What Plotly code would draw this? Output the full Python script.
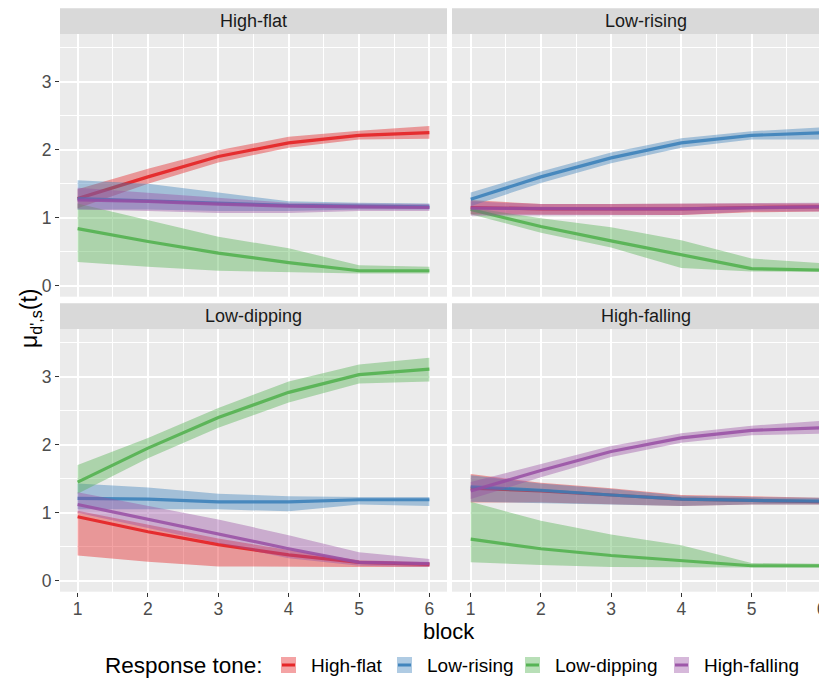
import plotly.graph_objects as go

# The page body has an 8px margin; design in screenshot pixels and shift.
OFF = 8
W, H = 827 - OFF, 682 - OFF

blocks = [1, 2, 3, 4, 5, 6]
tones = ["High-flat", "Low-rising", "Low-dipping", "High-falling"]
panels = ["High-flat", "Low-rising", "Low-dipping", "High-falling"]
tone_rgb = {
    "High-flat": (228, 26, 28),
    "Low-rising": (55, 126, 184),
    "Low-dipping": (77, 175, 74),
    "High-falling": (152, 78, 163),
}

# ---- Panel: High-flat ----
hf_mean = {
    "High-flat":    [1.28, 1.60, 1.90, 2.10, 2.21, 2.25],
    "Low-rising":   [1.28, 1.25, 1.21, 1.18, 1.17, 1.16],
    "Low-dipping":  [0.84, 0.65, 0.48, 0.34, 0.22, 0.22],
    "High-falling": [1.26, 1.24, 1.20, 1.17, 1.16, 1.15],
}
hf_lo = {
    "High-flat":    [1.14, 1.50, 1.81, 2.03, 2.15, 2.16],
    "Low-rising":   [1.12, 1.12, 1.10, 1.10, 1.12, 1.12],
    "Low-dipping":  [0.35, 0.28, 0.22, 0.20, 0.18, 0.18],
    "High-falling": [1.12, 1.10, 1.07, 1.07, 1.10, 1.10],
}
hf_hi = {
    "High-flat":    [1.42, 1.72, 1.99, 2.19, 2.28, 2.35],
    "Low-rising":   [1.55, 1.50, 1.37, 1.24, 1.22, 1.21],
    "Low-dipping":  [1.21, 0.97, 0.72, 0.55, 0.30, 0.28],
    "High-falling": [1.44, 1.37, 1.30, 1.22, 1.21, 1.20],
}

# ---- Panel: Low-rising ----
lr_mean = {
    "High-flat":    [1.15, 1.13, 1.13, 1.13, 1.15, 1.16],
    "Low-rising":   [1.27, 1.60, 1.88, 2.10, 2.21, 2.25],
    "Low-dipping":  [1.12, 0.87, 0.66, 0.45, 0.25, 0.23],
    "High-falling": [1.14, 1.13, 1.13, 1.13, 1.15, 1.16],
}
lr_lo = {
    "High-flat":    [1.05, 1.05, 1.04, 1.04, 1.08, 1.09],
    "Low-rising":   [1.17, 1.51, 1.80, 2.03, 2.15, 2.15],
    "Low-dipping":  [1.05, 0.78, 0.56, 0.26, 0.21, 0.20],
    "High-falling": [1.03, 1.04, 1.04, 1.04, 1.09, 1.09],
}
lr_hi = {
    "High-flat":    [1.26, 1.20, 1.20, 1.20, 1.20, 1.21],
    "Low-rising":   [1.37, 1.68, 1.96, 2.17, 2.27, 2.33],
    "Low-dipping":  [1.15, 0.99, 0.86, 0.67, 0.40, 0.33],
    "High-falling": [1.24, 1.20, 1.20, 1.21, 1.21, 1.22],
}

# ---- Panel: Low-dipping ----
ld_mean = {
    "High-flat":    [0.94, 0.72, 0.53, 0.38, 0.27, 0.24],
    "Low-rising":   [1.21, 1.20, 1.16, 1.16, 1.19, 1.19],
    "Low-dipping":  [1.45, 1.95, 2.40, 2.77, 3.03, 3.11],
    "High-falling": [1.12, 0.90, 0.68, 0.47, 0.27, 0.25],
}
ld_lo = {
    "High-flat":    [0.37, 0.28, 0.21, 0.20, 0.20, 0.20],
    "Low-rising":   [1.05, 1.05, 1.05, 1.02, 1.12, 1.10],
    "Low-dipping":  [1.28, 1.80, 2.25, 2.62, 2.90, 2.93],
    "High-falling": [1.00, 0.78, 0.55, 0.33, 0.22, 0.20],
}
ld_hi = {
    "High-flat":    [1.03, 0.83, 0.62, 0.45, 0.30, 0.27],
    "Low-rising":   [1.43, 1.37, 1.28, 1.24, 1.23, 1.23],
    "Low-dipping":  [1.70, 2.10, 2.54, 2.93, 3.18, 3.28],
    "High-falling": [1.30, 1.10, 0.90, 0.67, 0.42, 0.32],
}

# ---- Panel: High-falling ----
hfa_mean = {
    "High-flat":    [1.36, 1.32, 1.26, 1.20, 1.18, 1.16],
    "Low-rising":   [1.38, 1.33, 1.26, 1.20, 1.18, 1.17],
    "Low-dipping":  [0.61, 0.47, 0.37, 0.29, 0.22, 0.22],
    "High-falling": [1.32, 1.62, 1.90, 2.10, 2.21, 2.25],
}
hfa_lo = {
    "High-flat":    [1.15, 1.15, 1.13, 1.10, 1.12, 1.12],
    "Low-rising":   [1.16, 1.15, 1.12, 1.10, 1.12, 1.12],
    "Low-dipping":  [0.27, 0.23, 0.20, 0.19, 0.19, 0.19],
    "High-falling": [1.20, 1.52, 1.82, 2.03, 2.14, 2.16],
}
hfa_hi = {
    "High-flat":    [1.57, 1.44, 1.36, 1.26, 1.24, 1.22],
    "Low-rising":   [1.55, 1.43, 1.35, 1.25, 1.23, 1.22],
    "Low-dipping":  [1.16, 0.88, 0.68, 0.52, 0.26, 0.25],
    "High-falling": [1.45, 1.72, 1.98, 2.17, 2.28, 2.35],
}

panel_data = {
    "High-flat": (hf_mean, hf_lo, hf_hi),
    "Low-rising": (lr_mean, lr_lo, lr_hi),
    "Low-dipping": (ld_mean, ld_lo, ld_hi),
    "High-falling": (hfa_mean, hfa_lo, hfa_hi),
}

y_ticks = [0, 1, 2, 3]
x_ticks = [1, 2, 3, 4, 5, 6]

FONT = "Liberation Sans, Arial, sans-serif"


def rgba(rgb, a):
    return "rgba(%d,%d,%d,%.2f)" % (rgb[0], rgb[1], rgb[2], a)


def px(x):
    return (x - OFF) / W


def py(y):
    return (H - (y - OFF)) / H


fig = go.Figure()

# layout geometry (screen pixels)
col_px = [(60, 447), (452, 827)]
row_px = [(34.3, 296.7), (329.3, 591.7)]
strip_px = [(8.3, 34.3), (303.3, 329.3)]
col_center = [253.5, 645.5]
x_ranges = [[0.75, 6.25], [1 - 18.7 / 70.2, 1 + 356.3 / 70.2]]
y_range = [-0.162, 3.697]

layout_axes = {}
shapes = []
annotations = []

for i, pname in enumerate(panels):
    r, c = divmod(i, 2)
    n = i + 1
    xa = "x" if n == 1 else "x%d" % n
    ya = "y" if n == 1 else "y%d" % n
    mean, lo, hi = panel_data[pname]
    for tone in tones:
        rgb = tone_rgb[tone]
        fig.add_trace(go.Scatter(
            x=blocks + blocks[::-1],
            y=hi[tone] + lo[tone][::-1],
            fill="toself", fillcolor=rgba(rgb, 0.4),
            mode="lines", line=dict(width=0, color="rgba(0,0,0,0)"),
            hoverinfo="skip", showlegend=False, xaxis=xa, yaxis=ya,
        ))
        fig.add_trace(go.Scatter(
            x=blocks, y=mean[tone], mode="lines",
            line=dict(color=rgba(rgb, 0.85), width=3.2),
            name=tone, showlegend=False, xaxis=xa, yaxis=ya,
        ))

    x0, x1 = col_px[c]
    ytop, ybot = row_px[r]
    xkey = "xaxis" if n == 1 else "xaxis%d" % n
    ykey = "yaxis" if n == 1 else "yaxis%d" % n
    bottom = (r == 1)
    left = (c == 0)
    layout_axes[xkey] = dict(
        domain=[px(x0), min(px(x1), 1.0)], range=x_ranges[c], anchor=ya,
        tickvals=x_ticks, showticklabels=bottom, ticks="outside" if bottom else "",
        ticklen=4, tickcolor="#333333", tickwidth=1, ticklabelstandoff=-3,
        tickfont=dict(size=17.5, color="#4D4D4D", family=FONT),
        showgrid=True, gridcolor="white", gridwidth=1.6, zeroline=False, showline=False,
        minor=dict(dtick=0.5, tick0=0.5, showgrid=True, gridcolor="white", gridwidth=0.8),
    )
    layout_axes[ykey] = dict(
        domain=[py(ybot), py(ytop)], range=y_range, anchor=xa,
        tickvals=y_ticks, showticklabels=left, ticks="outside" if left else "",
        ticklen=4, tickcolor="#333333", tickwidth=1,
        tickfont=dict(size=17.5, color="#4D4D4D", family=FONT),
        showgrid=True, gridcolor="white", gridwidth=1.6, zeroline=False, showline=False,
        minor=dict(dtick=0.5, tick0=0.5, showgrid=True, gridcolor="white", gridwidth=0.8),
    )
    s0, s1 = strip_px[r]
    shapes.append(dict(type="rect", xref="paper", yref="paper",
                       x0=px(x0), x1=px(x0 + 387), y0=py(s1), y1=py(s0),
                       fillcolor="#D9D9D9", line=dict(width=0), layer="below"))
    annotations.append(dict(text=pname, xref="paper", yref="paper",
                            x=px(col_center[c]), y=py((s0 + s1) / 2),
                            xanchor="center", yanchor="middle", showarrow=False,
                            font=dict(size=18, color="#1A1A1A", family=FONT)))

# axis titles
annotations.append(dict(text="block", xref="paper", yref="paper", x=px(449), y=py(631),
                        xanchor="center", yanchor="middle", showarrow=False,
                        font=dict(size=22, color="black", family=FONT)))
annotations.append(dict(text="μ<sub>d',s</sub>(t)", xref="paper", yref="paper",
                        x=px(30), y=py(318), textangle=-90,
                        xanchor="center", yanchor="middle", showarrow=False,
                        font=dict(size=23, color="black", family=FONT)))

# legend (bottom)
leg_y = 665
annotations.append(dict(text="Response tone:", xref="paper", yref="paper",
                        x=px(103), y=py(leg_y), xanchor="left", yanchor="middle",
                        showarrow=False,
                        font=dict(size=22.5, color="black", family=FONT)))
key_x = [281, 397, 525, 674]
for tone, kx in zip(tones, key_x):
    rgb = tone_rgb[tone]
    shapes.append(dict(type="rect", xref="paper", yref="paper",
                       x0=px(kx), x1=px(kx + 15), y0=py(leg_y + 8), y1=py(leg_y - 8),
                       fillcolor=rgba(rgb, 0.4), line=dict(width=0)))
    shapes.append(dict(type="line", xref="paper", yref="paper",
                       x0=px(kx + 1), x1=px(kx + 14), y0=py(leg_y), y1=py(leg_y),
                       line=dict(color=rgba(rgb, 0.9), width=3)))
    annotations.append(dict(text=tone, xref="paper", yref="paper",
                            x=px(kx + 28), y=py(leg_y), xanchor="left", yanchor="middle",
                            showarrow=False,
                            font=dict(size=19, color="black", family=FONT)))

fig.update_layout(
    width=W, height=H,
    margin=dict(l=0, r=0, t=0, b=0),
    paper_bgcolor="white", plot_bgcolor="#EBEBEB",
    showlegend=False,
    shapes=shapes, annotations=annotations,
    **layout_axes,
)

fig.write_html("out.html")
